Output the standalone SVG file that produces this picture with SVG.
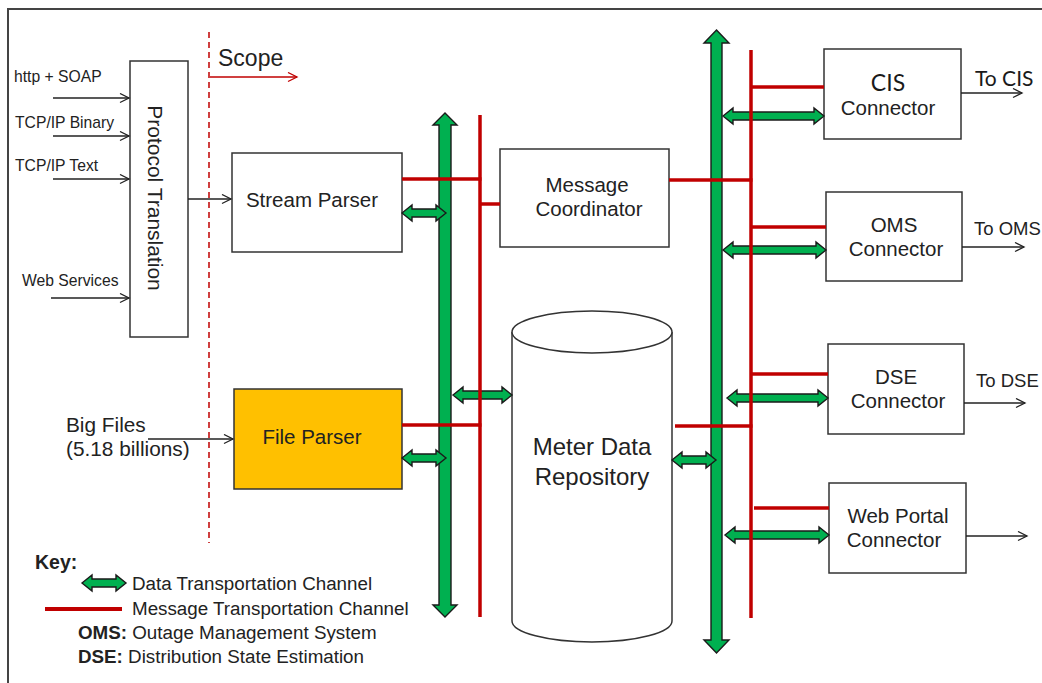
<svg xmlns="http://www.w3.org/2000/svg" width="1042" height="683" viewBox="0 0 1042 683">
<defs>
<style>
.t{font-family:"Liberation Sans",Arial,sans-serif;fill:#222;}
.lb{font-size:20.5px;}
.k{font-size:18.8px;}
.in{font-size:15.7px;}
.box{fill:#fff;stroke:#333;stroke-width:1.5;}
.red{stroke:#C00000;stroke-width:3.5;fill:none;}
.thin{stroke:#222;stroke-width:1.3;fill:none;marker-end:url(#ah);}
.grn{fill:#00B050;stroke:#1a1a1a;stroke-width:1.4;stroke-linejoin:miter;}
</style>
<marker id="ah" markerUnits="userSpaceOnUse" markerWidth="12" markerHeight="12" refX="10" refY="5" orient="auto" viewBox="0 0 12 12">
<path d="M1,0.5 L10,5 L1,9.5" fill="none" stroke="#222" stroke-width="1.3"/>
</marker>
<marker id="ahr" markerUnits="userSpaceOnUse" markerWidth="12" markerHeight="12" refX="10" refY="5" orient="auto" viewBox="0 0 12 12">
<path d="M1,0.5 L10,5 L1,9.5" fill="none" stroke="#C00000" stroke-width="1.3"/>
</marker>
</defs>
<rect x="0" y="0" width="1042" height="683" fill="#fff"/>
<rect x="8" y="9" width="1080" height="700" fill="none" stroke="#444" stroke-width="2"/>

<g id="scope">
<line x1="209" y1="32" x2="209" y2="543" stroke="#C00000" stroke-width="1.5" stroke-dasharray="6,4"/>
<text class="t" x="218" y="66" font-size="23">Scope</text>
<line x1="210" y1="77" x2="297" y2="77" stroke="#C00000" stroke-width="1.3" marker-end="url(#ahr)"/>
</g>

<g id="inputs">
<text class="t in" x="14" y="82">http + SOAP</text>
<text class="t in" x="15" y="128">TCP/IP Binary</text>
<text class="t in" x="15" y="171">TCP/IP Text</text>
<text class="t in" x="22" y="286">Web Services</text>
<text class="t" x="66" y="432" font-size="20.8">Big Files</text>
<text class="t" x="66" y="456" font-size="20.8">(5.18 billions)</text>
</g>

<g id="protocol-translation">
<rect class="box" x="130" y="61" width="58" height="276"/>
<text class="t" font-size="21" text-anchor="middle" transform="translate(148,198) rotate(90)">Protocol Translation</text>
</g>

<g id="stream-parser">
<rect class="box" x="232" y="153" width="170" height="99"/>
<text class="t lb" x="312" y="207" text-anchor="middle">Stream Parser</text>
</g>

<g id="file-parser">
<rect class="box" x="234" y="389" width="168" height="100" style="fill:#FFC000"/>
<text class="t lb" x="312" y="444" text-anchor="middle">File Parser</text>
</g>

<g id="message-coordinator">
<rect class="box" x="500" y="149" width="169" height="98"/>
<text class="t lb" x="587" y="192" text-anchor="middle">Message</text>
<text class="t lb" x="589" y="216" text-anchor="middle">Coordinator</text>
</g>

<g id="meter-data-repository">
<path d="M512,332 L512,621 A80,21 0 0 0 672,621 L672,332" fill="#fff" stroke="#333" stroke-width="1.5"/>
<ellipse cx="592" cy="332" rx="80" ry="21" fill="#fff" stroke="#333" stroke-width="1.5"/>
<text class="t" x="592" y="455" font-size="24" text-anchor="middle">Meter Data</text>
<text class="t" x="592" y="485" font-size="24" text-anchor="middle">Repository</text>
</g>

<g id="cis-connector">
<rect class="box" x="824" y="49" width="137" height="90"/>
<text x="888" y="91" font-size="23" text-anchor="middle" font-family="Lato,'Open Sans',sans-serif" fill="#1a1a1a">CIS</text>
<text class="t lb" x="888" y="115" text-anchor="middle">Connector</text>
</g>

<g id="oms-connector">
<rect class="box" x="826" y="192" width="136" height="89"/>
<text class="t lb" x="894" y="232" text-anchor="middle">OMS</text>
<text class="t lb" x="896" y="256" text-anchor="middle">Connector</text>
</g>

<g id="dse-connector">
<rect class="box" x="828" y="344" width="136" height="90"/>
<text class="t lb" x="896" y="384" text-anchor="middle">DSE</text>
<text class="t lb" x="898" y="408" text-anchor="middle">Connector</text>
</g>

<g id="web-portal-connector">
<rect class="box" x="829" y="483" width="137" height="90"/>
<text class="t lb" x="898" y="523" text-anchor="middle">Web Portal</text>
<text class="t lb" x="894" y="547" text-anchor="middle">Connector</text>
</g>

<g id="outputs">
<text x="975" y="86" font-size="21" font-family="Lato,'Open Sans',sans-serif" fill="#1a1a1a">To CIS</text>
<text class="t" x="974" y="235" font-size="18.5">To OMS</text>
<text class="t" x="976" y="387" font-size="18.5">To DSE</text>
</g>

<g id="connectors">
<line class="thin" x1="53" y1="98" x2="129" y2="98"/>
<line class="thin" x1="53" y1="136" x2="129" y2="136"/>
<line class="thin" x1="53" y1="179" x2="129" y2="179"/>
<line class="thin" x1="51" y1="298" x2="129" y2="298"/>
<line class="thin" x1="188" y1="199" x2="231" y2="199"/>
<line class="thin" x1="148" y1="439" x2="233" y2="439"/>
<line class="thin" x1="961" y1="93" x2="1022" y2="93"/>
<line class="thin" x1="962" y1="247" x2="1024" y2="247"/>
<line class="thin" x1="964" y1="403" x2="1025" y2="403"/>
<line class="thin" x1="966" y1="536" x2="1027" y2="536"/>

<path class="grn" d="M445,113 L457,125 L451,125 L451,605 L457,605 L445,617 L433,605 L439,605 L439,125 L433,125 Z"/>
<path class="grn" d="M716.5,30 L729,43 L722,43 L722,640 L729,640 L716.5,653 L704,640 L711,640 L711,43 L704,43 Z"/>

<path class="grn" d="M402,213 L412,205 L412,209 L436,209 L436,205 L446,213 L436,221 L436,217 L412,217 L412,221 Z"/>
<path class="grn" d="M453,395 L463,387 L463,391 L502,391 L502,387 L512,395 L502,403 L502,399 L463,399 L463,403 Z"/>
<path class="grn" d="M402,458 L412,450 L412,454 L436,454 L436,450 L446,458 L436,466 L436,462 L412,462 L412,466 Z"/>
<path class="grn" d="M672,460 L682,452 L682,456 L706,456 L706,452 L716,460 L706,468 L706,464 L682,464 L682,468 Z"/>
<path class="grn" d="M723,116 L733,108 L733,112 L814,112 L814,108 L824,116 L814,124 L814,120 L733,120 L733,124 Z"/>
<path class="grn" d="M723,250 L733,242 L733,246 L816,246 L816,242 L826,250 L816,258 L816,254 L733,254 L733,258 Z"/>
<path class="grn" d="M727,398 L737,390 L737,394 L818,394 L818,390 L828,398 L818,406 L818,402 L737,402 L737,406 Z"/>
<path class="grn" d="M725,535 L735,527 L735,531 L819,531 L819,527 L829,535 L819,543 L819,539 L735,539 L735,543 Z"/>

<line class="red" x1="480" y1="115" x2="480" y2="617"/>
<line class="red" x1="402" y1="179" x2="481.5" y2="179"/>
<line class="red" x1="480" y1="204" x2="500" y2="204"/>
<line class="red" x1="402" y1="425" x2="481.5" y2="425"/>
<line class="red" x1="669" y1="180" x2="752.5" y2="180"/>
<line class="red" x1="751" y1="50" x2="751" y2="618"/>
<line class="red" x1="751" y1="87" x2="824" y2="87"/>
<line class="red" x1="751" y1="227" x2="826" y2="227"/>
<line class="red" x1="751" y1="374" x2="828" y2="374"/>
<line class="red" x1="675" y1="426" x2="752.5" y2="426"/>
<line class="red" x1="754" y1="508" x2="829" y2="508"/>
</g>

<g id="key">
<text class="t" x="35" y="569" font-size="19.5" font-weight="bold">Key:</text>
<path class="grn" d="M82,583 L92,575 L92,579 L116,579 L116,575 L126,583 L116,591 L116,587 L92,587 L92,591 Z"/>
<text class="t k" x="132" y="590">Data Transportation Channel</text>
<line x1="45" y1="609" x2="122" y2="609" stroke="#C00000" stroke-width="4"/>
<text class="t k" x="132" y="615">Message Transportation Channel</text>
<text class="t k" x="78" y="639"><tspan font-weight="bold">OMS:</tspan> Outage Management System</text>
<text class="t k" x="78" y="663"><tspan font-weight="bold">DSE:</tspan> Distribution State Estimation</text>
</g>
</svg>
